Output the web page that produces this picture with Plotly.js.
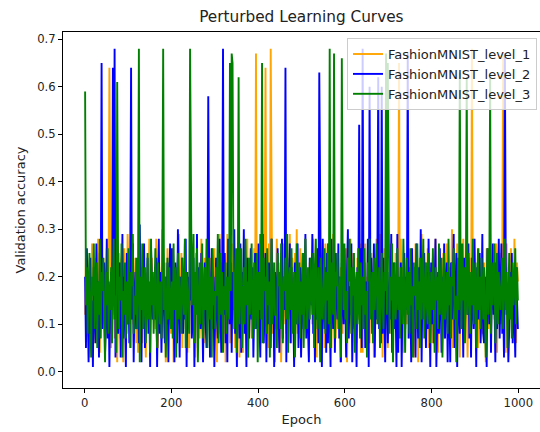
<!DOCTYPE html>
<html>
<head>
<meta charset="utf-8">
<script src="https://cdn.plot.ly/plotly-3.0.1.min.js"></script>
<style>html,body{margin:0;padding:0;background:#fff}#chart{width:540px;height:432px}</style>
</head>
<body>
<div id="chart"></div>
<script>
// Validation accuracy sampled every 2 epochs (1, 3, 5, ... 999)
const seriesNames = ["FashionMNIST_level_1", "FashionMNIST_level_2", "FashionMNIST_level_3"];
const seriesColors = ["#FFA500", "#0000FF", "#008000"];

const level1 = [
.12,.25,.08,.19,.14,.03,.22,.15,.27,.21,.06,.18,.11,.24,.09,.28,.16,.04,.20,.13,
.10,.24,.17,.04,.21,.26,.09,.14,.64,.19,.05,.23,.12,.28,.07,.17,.22,.02,.15,.25,
.23,.07,.19,.11,.02,.26,.13,.20,.08,.29,.16,.11,.22,.05,.18,.27,.10,.14,.24,.06,
.16,.04,.22,.12,.27,.19,.06,.18,.25,.09,.03,.15,.21,.13,.28,.08,.17,.24,.11,.20,
.21,.09,.28,.14,.05,.24,.17,.11,.19,.30,.07,.13,.23,.02,.18,.26,.10,.15,.22,.08,
.17,.26,.02,.13,.22,.08,.20,.14,.29,.10,.16,.25,.05,.19,.12,.27,.09,.21,.04,.18,
.05,.23,.14,.27,.09,.18,.12,.03,.25,.20,.12,.21,.07,.16,.28,.11,.19,.06,.24,.15,
.07,.19,.28,.11,.24,.04,.16,.22,.13,.26,.09,.18,.02,.21,.14,.29,.08,.17,.23,.12,
.08,.20,.02,.17,.29,.10,.23,.06,.15,.27,.13,.19,.24,.05,.21,.11,.26,.16,.03,.18,
.12,.21,.04,.18,.25,.09,.14,.28,.03,.20,.16,.23,.07,.19,.11,.26,.13,.67,.10,.22,
.22,.11,.19,.06,.15,.26,.09,.24,.64,.13,.18,.05,.27,.12,.68,.20,.08,.23,.16,.02,
.13,.28,.05,.20,.16,.23,.02,.18,.27,.10,.21,.14,.08,.25,.17,.11,.29,.06,.19,.24,
.21,.07,.25,.14,.30,.08,.19,.12,.26,.04,.17,.22,.10,.15,.28,.09,.20,.13,.03,.23,
.17,.23,.10,.28,.06,.15,.22,.03,.20,.13,.26,.09,.18,.24,.11,.16,.05,.27,.14,.21,
.27,.09,.18,.24,.05,.16,.29,.11,.21,.07,.14,.25,.12,.19,.02,.22,.17,.08,.26,.13,
.14,.26,.02,.19,.23,.12,.28,.08,.17,.25,.10,.20,.15,.06,.24,.18,.11,.27,.04,.21,
.04,.22,.13,.27,.09,.20,.15,.24,.06,.18,.25,.11,.19,.03,.23,.16,.28,.10,.14,.21,
.29,.11,.21,.03,.16,.26,.10,.19,.23,.05,.17,.13,.27,.08,.22,.15,.20,.09,.25,.12,
.14,.20,.65,.08,.28,.17,.22,.04,.25,.12,.18,.10,.24,.15,.07,.21,.26,.13,.19,.03,
.07,.27,.15,.21,.02,.18,.24,.10,.29,.13,.20,.16,.08,.23,.11,.26,.05,.19,.14,.22,
.19,.06,.23,.16,.28,.09,.20,.04,.26,.14,.11,.22,.17,.25,.07,.18,.13,.27,.10,.21,
.22,.11,.17,.30,.05,.25,.13,.21,.08,.27,.15,.19,.03,.24,.12,.18,.28,.09,.16,.20,
.15,.03,.20,.12,.24,.07,.68,.18,.28,.10,.22,.14,.19,.05,.26,.11,.17,.23,.08,.21,
.23,.14,.02,.26,.17,.09,.21,.29,.06,.19,.13,.24,.11,.18,.27,.04,.20,.15,.25,.10,
.12,.25,.67,.08,.20,.04,.27,.13,.22,.18,.15,.26,.09,.21,.11,.28,.17,.06,.23,.19
];

const level2 = [
.20,.05,.26,.11,.02,.18,.24,.08,.15,.01,.22,.13,.06,.27,.10,.19,.03,.25,.14,.65,
.09,.17,.23,.04,.12,.28,.07,.19,.01,.15,.21,.10,.64,.16,.68,.03,.24,.13,.08,.20,
.23,.03,.12,.29,.07,.20,.14,.01,.25,.10,.18,.06,.22,.64,.11,.27,.02,.16,.21,.09,
.10,.18,.06,.31,.13,.02,.22,.16,.27,.05,.19,.12,.24,.08,.15,.01,.26,.20,.11,.17,
.19,.11,.24,.01,.15,.28,.08,.21,.04,.17,.25,.13,.06,.20,.10,.23,.02,.18,.27,.09,
.26,.09,.14,.02,.23,.18,.06,.30,.12,.03,.20,.15,.24,.08,.17,.11,.28,.01,.21,.13,
.20,.15,.27,.07,.11,.24,.01,.19,.13,.29,.05,.22,.16,.09,.25,.12,.02,.18,.23,.10,
.05,.17,.58,.22,.03,.14,.26,.09,.20,.01,.16,.24,.11,.07,.21,.28,.13,.04,.19,.68,
.12,.25,.06,.18,.02,.28,.15,.10,.23,.04,.21,.13,.30,.08,.16,.01,.24,.19,.07,.27,
.04,.21,.13,.30,.08,.16,.01,.24,.19,.07,.14,.26,.11,.22,.03,.17,.25,.09,.20,.12,
.27,.11,.03,.22,.17,.29,.06,.14,.25,.02,.19,.10,.23,.15,.05,.28,.12,.18,.01,.21,
.18,.09,.26,.12,.04,.21,.15,.28,.07,.20,.13,.64,.02,.24,.11,.17,.27,.06,.22,.14,
.13,.01,.23,.19,.10,.27,.05,.16,.22,.03,.18,.25,.09,.14,.29,.07,.20,.12,.02,.24,
.20,.14,.29,.08,.17,.02,.24,.11,.26,.06,.63,.19,.13,.01,.28,.16,.09,.22,.04,.25,
.06,.19,.13,.01,.28,.16,.09,.22,.04,.25,.15,.11,.27,.07,.20,.02,.23,.17,.10,.26,
.15,.03,.21,.30,.07,.18,.12,.27,.02,.19,.24,.09,.14,.01,.22,.16,.52,.11,.26,.05,
.68,.14,.23,.05,.19,.10,.28,.01,.60,.17,.24,.08,.13,.27,.03,.20,.11,.25,.62,.09,
.17,.06,.60,.08,.24,.13,.02,.20,.26,.06,.15,.21,.11,.29,.04,.18,.23,.09,.14,.01,
.29,.04,.18,.11,.23,.01,.16,.14,.25,.09,.20,.13,.67,.07,.22,.17,.02,.26,.12,.19,
.20,.03,.27,.16,.07,.22,.12,.30,.02,.19,.11,.25,.14,.05,.21,.09,.28,.17,.01,.23,
.10,.24,.06,.17,.28,.01,.13,.21,.08,.26,.15,.04,.20,.12,.27,.07,.18,.23,.02,.16,
.15,.02,.23,.11,.19,.29,.05,.16,.25,.01,.21,.14,.08,.26,.12,.18,.03,.24,.10,.20,
.21,.12,.27,.07,.18,.03,.24,.14,.09,.28,.16,.01,.22,.11,.19,.25,.06,.13,.29,.08,
.06,.20,.13,.01,.26,.17,.10,.22,.04,.19,.27,.12,.15,.02,.23,.09,.18,.28,.07,.14,
.27,.08,.15,.03,.67,.23,.12,.18,.02,.09,.21,.14,.25,.06,.19,.11,.03,.22,.13,.09
];

const level3 = [
.59,.14,.22,.08,.18,.25,.11,.03,.20,.16,.27,.09,.15,.23,.05,.19,.12,.28,.07,.21,
.17,.24,.10,.02,.21,.14,.26,.08,.18,.13,.22,.06,.19,.28,.11,.16,.04,.61,.24,.09,
.20,.15,.27,.03,.17,.12,.23,.07,.19,.10,.26,.14,.05,.21,.18,.29,.08,.16,.12,.24,
.09,.18,.68,.02,.20,.13,.27,.09,.17,.22,.06,.15,.25,.11,.19,.04,.28,.14,.21,.08,
.18,.26,.12,.05,.23,.16,.10,.19,.07,.25,.68,.13,.20,.03,.17,.24,.11,.22,.15,.09,
.19,.07,.27,.13,.22,.03,.17,.25,.11,.20,.14,.08,.24,.18,.12,.28,.05,.21,.16,.10,
.08,.68,.24,.14,.18,.29,.06,.21,.12,.26,.02,.16,.23,.10,.19,.27,.07,.15,.22,.13,
.28,.05,.18,.24,.11,.20,.03,.26,.14,.17,.09,.22,.16,.29,.06,.19,.25,.12,.21,.04,
.18,.13,.23,.08,.20,.15,.11,.65,.17,.67,.65,.22,.09,.19,.26,.04,.14,.62,.10,.21,
.26,.05,.17,.22,.10,.28,.14,.19,.03,.24,.12,.20,.27,.07,.16,.23,.09,.18,.25,.02,
.21,.13,.29,.11,.65,.06,.24,.17,.20,.08,.26,.14,.19,.03,.22,.28,.10,.16,.23,.12,
.12,.05,.25,.18,.21,.09,.27,.14,.06,.20,.17,.24,.11,.29,.04,.19,.22,.13,.26,.08,
.15,.21,.03,.18,.27,.10,.16,.23,.07,.19,.12,.25,.05,.20,.28,.14,.09,.22,.17,.11,
.24,.19,.12,.25,.05,.20,.28,.14,.09,.22,.17,.02,.24,.13,.11,.19,.26,.08,.21,.15,
.27,.10,.68,.05,.23,.16,.12,.67,.07,.21,.18,.25,.09,.14,.20,.03,.66,.22,.13,.27,
.11,.17,.06,.24,.19,.28,.13,.08,.22,.16,.25,.04,.18,.21,.10,.26,.15,.07,.23,.14,
.20,.09,.26,.12,.17,.03,.23,.19,.28,.11,.15,.21,.06,.24,.13,.18,.27,.10,.16,.22,
.05,.19,.25,.14,.09,.21,.17,.67,.12,.65,.24,.08,.20,.15,.27,.02,.18,.23,.11,.16,
.26,.13,.20,.07,.22,.17,.10,.28,.15,.04,.19,.24,.12,.21,.08,.26,.14,.18,.03,.23,
.16,.22,.09,.27,.13,.19,.05,.24,.11,.20,.28,.07,.17,.23,.14,.10,.25,.18,.06,.21,
.13,.26,.18,.04,.22,.15,.20,.09,.27,.12,.17,.24,.03,.19,.25,.11,.16,.21,.08,.28,
.14,.20,.07,.23,.18,.26,.11,.16,.02,.21,.24,.13,.63,.19,.09,.27,.15,.22,.06,.18,
.62,.12,.25,.17,.08,.21,.14,.28,.10,.19,.23,.05,.16,.26,.13,.20,.09,.24,.18,.11,
.22,.15,.03,.19,.26,.12,.17,.62,.08,.23,.14,.20,.27,.06,.18,.25,.10,.21,.16,.13,
.19,.24,.09,.17,.28,.13,.21,.05,.16,.25,.11,.20,.07,.23,.14,.18,.26,.10,.22,.15
];

const epochStart = 1, epochStep = 2;
const epochs = level1.map((_, i) => epochStart + i * epochStep);

const xTicks = [0, 200, 400, 600, 800, 1000];
const yTicks = [0.0, 0.1, 0.2, 0.3, 0.4, 0.5, 0.6, 0.7];

const allSeries = [level1, level2, level3];
const traces = allSeries.map((vals, k) => ({
  x: epochs, y: vals, type: 'scatter', mode: 'lines',
  name: seriesNames[k],
  line: {color: seriesColors[k], width: 1.9}
}));

const tickFont = {family: 'DejaVu Sans, sans-serif', size: 11.6, color: '#222'};
const labelFont = {family: 'DejaVu Sans, sans-serif', size: 13, color: '#222'};
const layout = {
  width: 540, height: 432,
  margin: {l: 63, r: 0, t: 32, b: 44, pad: 0},
  paper_bgcolor: '#fff', plot_bgcolor: '#fff',
  font: tickFont,
  showlegend: true,
  title: {text: 'Perturbed Learning Curves', font: {family: 'DejaVu Sans, sans-serif', size: 15.3, color: '#222'},
          x: 0.5581, xanchor: 'center', xref: 'container', y: 1 - 17/432, yanchor: 'middle', yref: 'container'},
  xaxis: {
    range: [-50, 1050], tickvals: xTicks, ticktext: xTicks.map(String), tickfont: tickFont,
    showgrid: false, zeroline: false, showline: true, mirror: true, linecolor: '#000', linewidth: 1,
    ticks: 'outside', ticklen: 4, tickcolor: '#000', tickwidth: 1,
    title: {text: 'Epoch', font: labelFont, standoff: 5}
  },
  yaxis: {
    range: [-0.0343, 0.7154], tickvals: yTicks, ticktext: yTicks.map(v => v.toFixed(1)), tickfont: tickFont,
    showgrid: false, zeroline: false, showline: true, mirror: true, linecolor: '#000', linewidth: 1,
    ticks: 'outside', ticklen: 4, tickcolor: '#000', tickwidth: 1,
    title: {text: 'Validation accuracy', font: labelFont, standoff: 8}
  },
  legend: {
    x: 0.9937, xanchor: 'right', y: 0.983, yanchor: 'top',
    bgcolor: 'rgba(255,255,255,0.8)', bordercolor: '#cccccc', borderwidth: 1,
    font: labelFont, itemwidth: 30, tracegroupgap: 0
  }
};

Plotly.newPlot('chart', traces, layout, {displayModeBar: false, staticPlot: true});
</script>
</body>
</html>
